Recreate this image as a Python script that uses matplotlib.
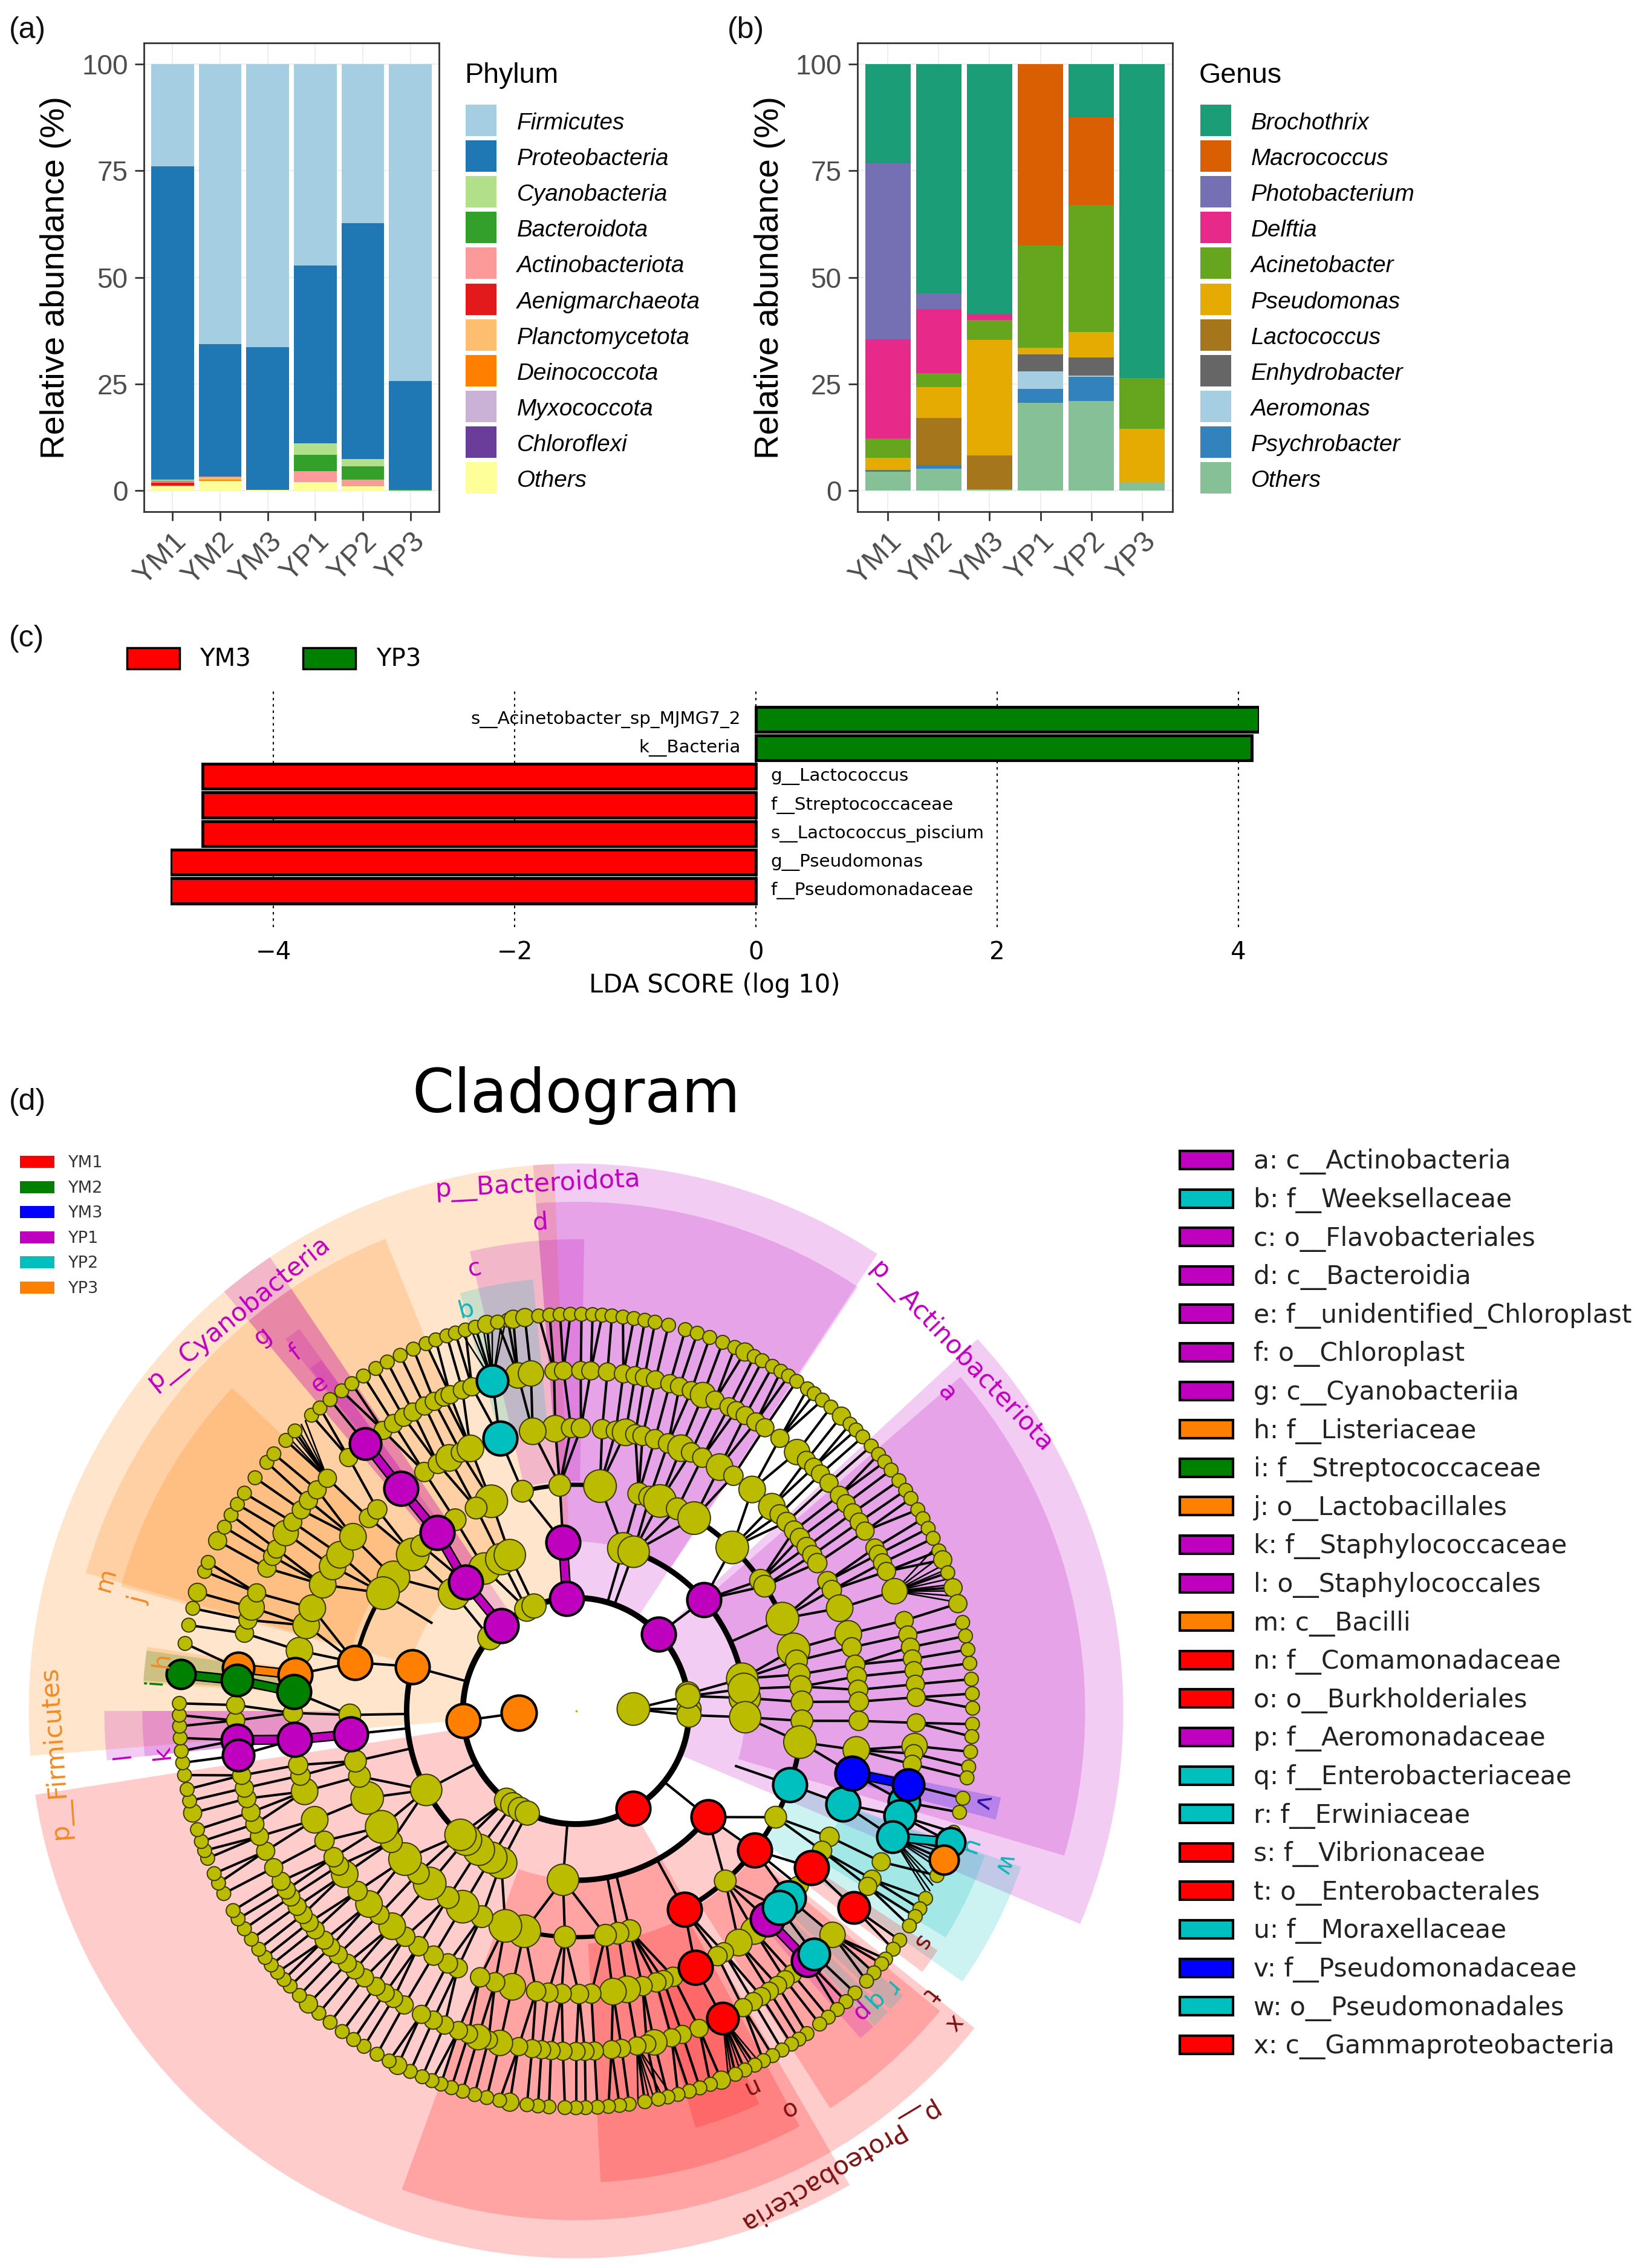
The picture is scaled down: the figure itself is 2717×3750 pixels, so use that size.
import matplotlib
matplotlib.use('Agg')
import matplotlib.pyplot as plt
import numpy as np
from matplotlib.patches import Rectangle

W, H = 2717, 3750
SANS = 'Liberation Sans'
DEJA = 'DejaVu Sans'

samples = ['YM1', 'YM2', 'YM3', 'YP1', 'YP2', 'YP3']

# panel a, listed top of stack to bottom of stack
phylum_names = ['Firmicutes', 'Proteobacteria', 'Cyanobacteria', 'Bacteroidota', 'Actinobacteriota',
                'Aenigmarchaeota', 'Planctomycetota', 'Deinococcota', 'Myxococcota', 'Chloroflexi', 'Others']
phylum_colors = ['#a6cee3', '#1f78b4', '#b2df8a', '#33a02c', '#fb9a99', '#e31a1c',
                 '#fdbf6f', '#ff7f00', '#cab2d6', '#6a3d9a', '#ffff99']
phylum_vals = {
    'YM1': [23.9, 73.6, 0.3, 0.1, 0.3, 0.7, 0.1, 0, 0, 0, 1.0],
    'YM2': [65.7, 31.1, 0, 0, 0.3, 0, 0.4, 0.3, 0, 0, 2.2],
    'YM3': [66.4, 33.5, 0, 0, 0, 0, 0, 0, 0, 0, 0.1],
    'YP1': [47.2, 41.8, 2.7, 3.8, 2.5, 0, 0, 0, 0, 0, 2.0],
    'YP2': [37.3, 55.3, 1.7, 3.2, 1.6, 0, 0, 0, 0, 0, 0.9],
    'YP3': [74.3, 25.4, 0, 0.3, 0, 0, 0, 0, 0, 0, 0],
}

# panel b
genus_names = ['Brochothrix', 'Macrococcus', 'Photobacterium', 'Delftia', 'Acinetobacter', 'Pseudomonas',
               'Lactococcus', 'Enhydrobacter', 'Aeromonas', 'Psychrobacter', 'Others']
genus_colors = ['#1b9e77', '#d95f02', '#7570b3', '#e7298a', '#66a61e', '#e6ab02',
                '#a6761d', '#666666', '#a6cee3', '#3182bd', '#85c096']
genus_vals = {
    'YM1': [23.3, 0, 41.3, 23.2, 4.5, 2.9, 0, 0, 0, 0.4, 4.4],
    'YM2': [53.8, 0, 3.6, 15.1, 3.2, 7.3, 11.0, 0, 0, 0.9, 5.1],
    'YM3': [58.6, 0, 0, 1.4, 4.7, 27.1, 8.0, 0, 0, 0, 0.2],
    'YP1': [0, 42.5, 0, 0, 24.1, 1.5, 0, 3.9, 4.2, 3.3, 20.5],
    'YP2': [12.4, 20.7, 0, 0, 29.7, 6.0, 0, 4.3, 0.2, 5.7, 21.0],
    'YP3': [73.6, 0, 0, 0, 12.0, 12.4, 0, 0, 0, 0, 2.0],
}

# panel c
lda_names = ['s__Acinetobacter_sp_MJMG7_2', 'k__Bacteria', 'g__Lactococcus', 'f__Streptococcaceae',
             's__Lactococcus_piscium', 'g__Pseudomonas', 'f__Pseudomonadaceae']
lda_vals = [4.17, 4.11, -4.59, -4.59, -4.59, -4.855, -4.855]

# panel d
groups = ['YM1', 'YM2', 'YM3', 'YP1', 'YP2', 'YP3']
group_colors = {'YM1': '#ff0000', 'YM2': '#008000', 'YM3': '#0000ff',
                'YP1': '#bf00bf', 'YP2': '#00bfbf', 'YP3': '#ff7f00'}
clade_legend = [('a: c__Actinobacteria', 'YP1'), ('b: f__Weeksellaceae', 'YP2'), ('c: o__Flavobacteriales', 'YP1'),
                ('d: c__Bacteroidia', 'YP1'), ('e: f__unidentified_Chloroplast', 'YP1'), ('f: o__Chloroplast', 'YP1'),
                ('g: c__Cyanobacteriia', 'YP1'), ('h: f__Listeriaceae', 'YP3'), ('i: f__Streptococcaceae', 'YM2'),
                ('j: o__Lactobacillales', 'YP3'), ('k: f__Staphylococcaceae', 'YP1'), ('l: o__Staphylococcales', 'YP1'),
                ('m: c__Bacilli', 'YP3'), ('n: f__Comamonadaceae', 'YM1'), ('o: o__Burkholderiales', 'YM1'),
                ('p: f__Aeromonadaceae', 'YP1'), ('q: f__Enterobacteriaceae', 'YP2'), ('r: f__Erwiniaceae', 'YP2'),
                ('s: f__Vibrionaceae', 'YM1'), ('t: o__Enterobacterales', 'YM1'), ('u: f__Moraxellaceae', 'YP2'),
                ('v: f__Pseudomonadaceae', 'YM3'), ('w: o__Pseudomonadales', 'YP2'), ('x: c__Gammaproteobacteria', 'YM1')]

ring_radius = {1: 95, 2: 187, 3: 280, 4: 374, 5: 468, 6: 563, 7: 656}
ring_size = {1: 54, 2: 40, 3: 52, 4: 36, 5: 32, 6: 30, 7: 23}
ring_big = {4: 54, 5: 44, 6: 42, 7: 30}

# (group, start angle, end angle, inner radius, outer radius)
sectors = [
    ('YM1', 188.8, 300, 187, 905), ('YP1', -22.9, 42.8, 187, 905), ('YP1', 56.6, 94.5, 187, 905),
    ('YP3', 92.3, 184.7, 187, 905), ('YP1', 124, 130, 187, 905),
    ('YM1', 250, 321.5, 278, 842), ('YP1', -16.5, 41, 280, 842), ('YP1', 56.4, 94.5, 280, 842),
    ('YP3', 112, 164.3, 285, 842), ('YP1', 124, 130, 280, 842),
    ('YM1', 273, 298.3, 385, 780), ('YM1', 302.6, 320.5, 380, 780), ('YP2', -35, -19.3, 375, 780),
    ('YP1', 89, 103, 380, 780), ('YP1', 125.9, 128, 385, 780), ('YP3', 136.8, 164.7, 385, 780),
    ('YP1', 180, 186, 385, 780),
    ('YM1', 286, 295, 468, 717), ('YM1', -37, -33.5, 470, 717), ('YP2', -31.5, -19.5, 470, 717),
    ('YM3', -14.5, -11.5, 470, 717), ('YP2', 95.7, 105.5, 470, 717), ('YP1', 126, 127.8, 470, 717),
    ('YP3', 171.5, 176.3, 470, 717), ('YM2', 172, 176, 470, 717), ('YP1', 180, 186, 470, 717),
    ('YP1', -49, -46.7, 470, 717), ('YP2', -46.5, -44, 470, 717), ('YP2', -43.5, -41, 470, 717),
]

# node angles in degrees for each ring
ring1 = [2, -178]
ring2 = [-59.5, 42.9, 8.7, 1, -2.1, 7.6, 94.7, 131.2, -175.1, -127.9, -124, -119.5, -115.5, 139.6, 115.8, 111.8]
ring3 = [94.4, 73.8, 70.1, 41, 11, 4.4, 7.5, -2.1, -38.8, -94.4, -116.2, -120, -125, -130.5, -133, -152.2,
         164.8, 130.6, 136.1, 122.7, 116.2, 113]
ring4 = [94.1, 83.9, 73.9, 71, 68.2, 63.4, 58.5, 46.3, 35.3, 33.5, 24.1, 15.8, 12.8, 9.3, 6.2, 2.3, -2.5, -7.9,
         -19, -28, -37.9, -48.7, -61.4, -76.2, -79.3, -82.5, -92.8, -103.2, -108.2, -114.6, -120.1, -124.4,
         -130.3, -134.2, -139.1, -144.7, -149.2, -157.4, -163.2, -167.2, -174.1, -179, 167.6, 143.8, 148.6,
         127.9, 136.2, 133, 112, 116.2, 122.3, 103.7]
ring4_big = [83.9, 68.2, 58.5, 46.3, 24.1, 15.8, -7.9, -103.2, -108.2, -120.1, -130.3, -139.1, -149.2, -157.4,
             143.8, 148.6, 136.2, 112]
ring5 = [94.2, 91, 89, 84.7, 81.9, 79.9, 77.9, 76.4, 73.8, 71, 68.2, 66, 63.5, 59.5, 56.2, 51.5, 46.2, 44, 41.9,
         39.6, 37.7, 35.4, 33.4, 31.5, 27.3, 25.3, 21.3, 15.8, 13, 9.4, 7, 4.3, 1.9, -2, -7.9, -12.7, -19.2, -26.4,
         -29.6, -33.6, -38.1, -41.3, -44, -47.4, -51, -54.9, -58.5, -60, -65, -69.9, -72, -73.5, -76.4, -79.6, -82.5,
         -86.9, -89.4, -92.9, -95.6, -98.1, -103, -106.6, -109.8, -114.7, -116.9, -120.2, -123.8, -127.1, -130.5,
         -134, -137, -140.5, -144.8, -146.9, -148.9, -152.7, -157.4, -163.5, -166.8, -169, -174.2, -179.6, 176.1,
         172.6, 167.7, 162.4, 158.7, 153.5, 149.3, 146.5, 142, 137, 134.6, 128.2, 122.4, 119.2, 116.6, 114,
         111.9, 105.6, 98.8]
ring5_big = [79.9, 68.2, 59.5, 51.5, 46.2, 21.3, 15.8, -7.9, -51, -54.9, -79.6, -82.5, -103, -130.5, -137, -144.8,
             -157.4, -163.5, 167.7, 162.4, 158.7, 153.5, 149.3, 146.5, 142, 116.6, 111.9, 98.8, 94.2]
ring6 = [93.7, 92.1, 89.2, 87.5, 84.7, 82, 80, 78.4, 76.5, 74, 72.3, 70.2, 68.1, 65.9, 63.3, 61.9, 60.2, 58.1, 56.3,
         53.2, 49.5, 47.4, 45.7, 44.1, 42, 39.3, 37.5, 35.6, 33.7, 31.9, 28.6, 27.4, 25.8, 24.2, 20.6, 15.4, 12.9,
         10.8, 8.8, 6.8, 4.5, 2.3, -2, -5.9, -7.2, -9, -12.5, -15.5, -17.9, -21.7, -26.3, -29.6, -31, -35.3, -41.1,
         -45.6, -47.2, -50.5, -52.1, -53.7, -55.4, -57, -58.6, -60.6, -64.5, -68.8, -71.8, -73.7, -76.7, -78, -79.7,
         -82.3, -84, -86.9, -88.5, -90, -92.2, -94.2, -95.8, -97.4, -99.7, -102.9, -104.9, -106.7, -108.4, -110.2,
         -112.7, -114.8, -117, -120.3, -122.4, -124.1, -126, -128.4, -130.5, -132.2, -134.3, -136.1, -137.7, -140,
         -141.6, -143.3, -145, -146.9, -148.3, -150, -152.6, -155.7, -158.4, -160.6, -162.7, -165.1, -166.9, -169.1,
         -172.5, -175.1, -178.4, 179, 174.8, 172.8, 166.8, 164.5, 162.3, 159.7, 155.2, 153, 151.6, 148.5, 146.3,
         143.8, 141.8, 139.5, 136.9, 131.9, 128.2, 124.5, 122.4, 120.4, 118.6, 116.4, 114.6, 112.8, 111.7, 109.5,
         107.8, 104.2, 99.8, 97.6]
ring6_big = [68.1, 49.5, 20.6, -5.9, -41.1, -76.7, -102.9, -106.7, 162.3, 148.5, 97.6, 99.8]
ring7 = [99.9, 99.1, 97.4, 95.4, 93.8, 92.3, 90.8, 89.2, 87.6, 86.2, 84.8, 83.2, 81.6, 80, 78.5, 76.5, 74, 72.2, 70.3,
         68.3, 66.4, 64.8, 63.3, 62, 60.3, 58.9, 57.6, 56.2, 54.3, 53.1, 51.6, 50, 48, 46.3, 45.1, 43.7, 41.9, 40.3,
         38.9, 37.4, 35.5, 33.8, 32.4, 30.5, 29, 27.4, 25.8, 23.8, 22.4, 20.4, 18.1, 15.7, 12.9, 10.9, 8.9, 6.9, 4.6,
         2.5, 0.4, -1.9, -3.7, -5.9, -8.1, -9.7, -12.7, -14.8, -17.8, -19.3, -22, -24.5, -28.2, -29.9, -31.2, -32.8,
         -35.3, -36.9, -38.7, -39.6, -41.3, -42.9, -45.3, -47.1, -48.8, -50.5, -52.1, -54.4, -55.8, -57.1, -58.7,
         -60.3, -61.8, -63.2, -64.8, -66.3, -68.5, -70.2, -71.8, -73.4, -75.1, -76.6, -78, -80, -82.3, -83.7, -85.3,
         -86.9, -88.6, -90, -91.6, -93.9, -95.5, -97.1, -99.6, -101.1, -103, -104.8, -106.6, -108.3, -109.9, -111.3,
         -112.8, -114.7, -116.7, -118.1, -120.1, -122.3, -124.1, -126.1, -128.3, -130.4, -132.4, -134.2, -136.1,
         -137.4, -138.8, -140.2, -141.6, -143.1, -144.9, -146.7, -148.4, -149.8, -152.6, -154.3, -155.8, -158.2,
         -159.4, -160.8, -162.6, -165.1, -166.9, -168.6, -170.7, -172.5, -174.2, -176.1, -177.8, -179.4, 178.9,
         174.7, 170.2, 167.5, 165, 162.6, 159.4, 158, 154.6, 152.4, 150.4, 148.6, 146.7, 144, 141.2, 139.6, 137,
         135.1, 131.8, 130.2, 128.3, 126.2, 124.4, 122.4, 120.3, 118.4, 116.3, 114.2, 112.2, 110.7, 109, 107.7,
         106.2, 104.7, 103, 101.4]
ring7_big = [64.8, 48, 22.4, 18.1, 15.7, -99.6, -116.7, -132.4, -165.1, 162.6, 154.6, 99.1, 97.4, 103, -68.5]

rings = {1: ring1, 2: ring2, 3: ring3, 4: ring4, 5: ring5, 6: ring6, 7: ring7}
bigs = {4: ring4_big, 5: ring5_big, 6: ring6_big, 7: ring7_big}

# highlighted nodes: group, ring, angle
marked = [
    ('YP1', 2, 94.7), ('YP1', 3, 94.4), ('YP1', 2, 131.2), ('YP1', 3, 130.6), ('YP1', 4, 127.9), ('YP1', 5, 128.2),
    ('YP1', 6, 128.2), ('YP1', 2, 42.9), ('YP1', 3, 41), ('YP1', 4, -174.1), ('YP1', 5, -174.2), ('YP1', 6, -175.1),
    ('YP1', 6, -172.5), ('YP1', 5, -47.4), ('YP1', 6, -47.2),
    ('YP2', 6, 104.2), ('YP2', 5, 105.6), ('YP2', 4, -19), ('YP2', 5, -19.2), ('YP2', 6, -15.5), ('YP2', 6, -17.9),
    ('YP2', 6, -21.7), ('YP2', 7, -19.3), ('YP2', 5, -41.3), ('YP2', 5, -44), ('YP2', 6, -45.6),
    ('YM3', 5, -12.7), ('YM3', 6, -12.5),
    ('YM1', 2, -59.5), ('YM1', 3, -38.8), ('YM1', 4, -37.9), ('YM1', 4, -61.4), ('YM1', 5, -33.6), ('YM1', 5, -65),
    ('YM1', 6, -35.3), ('YM1', 6, -64.5),
    ('YP3', 1, -178), ('YP3', 2, -175.1), ('YP3', 3, 164.8), ('YP3', 4, 167.6), ('YP3', 5, 172.6), ('YP3', 6, 172.8),
    ('YP3', 7, -22),
    ('YM2', 5, 176.1), ('YM2', 6, 174.8), ('YM2', 7, 174.7),
]
marked_size = {1: 58, 2: 56, 3: 56, 4: 56, 5: 56, 6: 52, 7: 48}

# highlighted links: group, ring, angle, ring, angle
marked_links = [
    ('YP1', 6, 128.2, 5, 128.2), ('YP1', 5, 128.2, 4, 127.9), ('YP1', 4, 127.9, 3, 130.6), ('YP1', 3, 130.6, 2, 131.2),
    ('YP1', 3, 94.4, 2, 94.7), ('YP1', 5, -174.2, 4, -174.1), ('YP1', 6, -175.1, 5, -174.2), ('YP1', 6, -47.2, 5, -47.4),
    ('YM2', 7, 174.7, 6, 174.8), ('YM2', 6, 174.8, 5, 176.1), ('YP3', 6, 172.8, 5, 172.6),
    ('YM3', 6, -12.5, 5, -12.7), ('YP2', 7, -19.3, 6, -21.7),
]

# thick black arcs: radius, start, end, width
arcs = [(187, 0, 360, 7), (280, 165, 226, 6.5), (280, 266, 321, 6.5), (280, -2, 70, 6.5),
        (374, -61.4, 58.5, 6), (374, 83.9, 103.7, 5), (374, -103.2, -76.2, 5), (374, -157.4, -139.1, 4),
        (374, 143.8, 167.6, 5)]

# tight fans of lines: parent ring, parent angle, child angles on the next ring
fans = [(6, 20.6, [15.9, 16.8, 17.6, 18.6, 19.5, 20.9, 21.7, 23, 24.6]),
        (6, -21.7, [-20.4, -21, -22.8, -23.5, -25.2, -26, -26.9, -27.6]),
        (6, -64.5, [-62.4, -63.8, -65.5, -66.9, -67.4]),
        (6, -79.7, [-76, -77.3, -78.6, -79.3, -81]),
        (6, 136.9, [133, 133.8, 134.6, 135.6, 136.4]),
        (6, 104.2, [100.2, 100.8, 102.2, 103.6, 105.4, 106.9])]

# letters and phylum names: text, group, angle, radius, rotation
clade_labels = [('a', 'YP1', 40.6, 807, -49), ('b', 'YP2', 105.3, 688, 15), ('c', 'YP1', 102.9, 750, 13),
                ('d', 'YP1', 94.2, 810, 4), ('e', 'YP1', 128.1, 687, 38), ('f', 'YP1', 128.1, 751, 38),
                ('g', 'YP1', 129.9, 808, 38), ('h', 'YP3', 173, 690, 83), ('i', 'YM2', 176, 699, 86),
                ('j', 'YP3', 165.7, 747, 76), ('k', 'YP1', 185.7, 688, 96), ('l', 'YP1', 185.6, 753, 96),
                ('m', 'YP3', 164.4, 807, 74), ('n', 'YM1', -65.3, 685, 205), ('o', 'YM1', -62, 745, 208),
                ('p', 'YP1', -46.8, 683, 223), ('q', 'YP2', -44.2, 687, 226), ('r', 'YP2', -41.4, 692, 229),
                ('s', 'YM1', -33.9, 687, 236), ('t', 'YM1', -38.7, 750, 231), ('u', 'YP2', -19.2, 689, 251),
                ('v', 'YM3', -12.7, 689, 257), ('w', 'YP2', -19.7, 751, 250), ('x', 'YM1', -39.6, 810, 230),
                ('p__Bacteroidota', 'YP1', 94.2, 873, 3), ('p__Cyanobacteria', 'YP1', 130.3, 863, 39),
                ('p__Actinobacteriota', 'YP1', 42.6, 865, -46.5), ('p__Firmicutes', 'YP3', 184.6, 865, 94),
                ('p__Proteobacteria', 'YM1', -60.1, 869, 211)]
label_colors = {'YM1': '#7a1212', 'YM2': '#008000', 'YM3': '#2a10a0', 'YP1': '#bf00bf', 'YP2': '#10b4b8', 'YP3': '#f08a24'}


def axes_px(left, top, right, bottom, **kw):
    return fig.add_axes([left / W, 1 - bottom / H, (right - left) / W, (bottom - top) / H], **kw)


def stacked(ax, vals, colors):
    for i, s in enumerate(samples):
        top = 100.0
        for v, c in zip(vals[s], colors):
            ax.bar(i + 1, v, 0.9, bottom=top - v, color=c, linewidth=0, zorder=3)
            top -= v
    ax.set_xlim(0.4, 6.6)
    ax.set_ylim(-5, 105)
    ax.set_xticks(range(1, 7))
    ax.set_xticklabels(samples, rotation=45, ha='right', va='top', rotation_mode='anchor',
                       family=SANS, fontsize=35, color='#4D4D4D')
    ax.set_yticks([0, 25, 50, 75, 100])
    ax.set_yticklabels(['0', '25', '50', '75', '100'], family=SANS, fontsize=33, color='#4D4D4D')
    ax.tick_params(axis='both', length=11, width=2, color='#333333', pad=8)
    ax.grid(True, color='#EBEBEB', linewidth=1.2, zorder=0)
    ax.set_axisbelow(True)
    for sp in ax.spines.values():
        sp.set_color('#333333')
        sp.set_linewidth(2)


def legend_block(x_key, x_text, title, names, colors):
    lay.text(x_key - 2, 125, title, family=SANS, fontsize=33.5, va='center', ha='left', color='black')
    for i, (n, c) in enumerate(zip(names, colors)):
        y = 199 + i * 59.1
        lay.add_patch(Rectangle((x_key, y - 26), 51, 52, facecolor=c, edgecolor='none'))
        lay.text(x_text, y + 5, n, family=SANS, style='italic', fontsize=27.8, va='center', ha='left', color='black')


fig = plt.figure(figsize=(W / 100, H / 100), dpi=100, facecolor='white')

lay = fig.add_axes([0, 0, 1, 1], zorder=10)
lay.set_xlim(0, W)
lay.set_ylim(H, 0)
lay.axis('off')
lay.patch.set_alpha(0)

# (a)
ax_a = axes_px(238, 71, 726, 846)
stacked(ax_a, phylum_vals, phylum_colors)
lay.text(92, 459, 'Relative abundance (%)', family=SANS, fontsize=40.5, rotation=90, ha='center', va='center')
legend_block(770, 855, 'Phylum', phylum_names, phylum_colors)

# (b)
ax_b = axes_px(1418, 71, 1939, 846)
stacked(ax_b, genus_vals, genus_colors)
lay.text(1273, 459, 'Relative abundance (%)', family=SANS, fontsize=40.5, rotation=90, ha='center', va='center')
legend_block(1985, 2069, 'Genus', genus_names, genus_colors)

for txt, x, y in [('(a)', 15, 50), ('(b)', 1203, 50), ('(c)', 15, 1056), ('(d)', 15, 1822)]:
    lay.text(x, y, txt, family=SANS, fontsize=36, va='center', ha='left', color='#111111')

# (c)
ax_c = axes_px(282, 1138, 2082, 1533)
ypos = np.arange(len(lda_vals))[::-1]
bar_cols = ['#ff0000' if v < 0 else '#008000' for v in lda_vals]
ax_c.barh(ypos, lda_vals, height=0.87, color=bar_cols, edgecolor='black', linewidth=3.5, zorder=3)
ax_c.set_xlim(-4.855, 4.172)
ax_c.set_ylim(-1.27, 7.08)
ax_c.set_yticks([])
ax_c.set_xticks([-4, -2, 0, 2, 4])
ax_c.set_xticklabels(['\u22124', '\u22122', '0', '2', '4'], family=DEJA, fontsize=29)
ax_c.tick_params(axis='x', length=0, pad=16)
ax_c.xaxis.grid(True, color='black', linewidth=1.5, linestyle=(0, (2, 3)), zorder=0)
ax_c.set_axisbelow(True)
for sp in ax_c.spines.values():
    sp.set_visible(False)
for y, n, v in zip(ypos, lda_names, lda_vals):
    if v > 0:
        ax_c.text(-0.125, y, n, family=DEJA, fontsize=21.2, ha='right', va='center', zorder=4)
    else:
        ax_c.text(0.12, y, n, family=DEJA, fontsize=21.2, ha='left', va='center', zorder=4)
lay.text(1182, 1629, 'LDA SCORE (log 10)', family=DEJA, fontsize=30, ha='center', va='center')
for name, x_sw, x_tx, col in [('YM3', 210, 330, '#ff0000'), ('YP3', 501, 622, '#008000')]:
    lay.add_patch(Rectangle((x_sw, 1071), 87, 35, facecolor=col, edgecolor='black', linewidth=2.5))
    lay.text(x_tx, 1090, name, family=DEJA, fontsize=29, va='center', ha='left')

# (d)
lay.text(953, 1812, 'Cladogram', family=DEJA, fontsize=71.5, ha='center', va='center')
for i, g in enumerate(groups):
    y = 1921 + i * 41.6
    lay.add_patch(Rectangle((33, y - 10), 57, 20, facecolor=group_colors[g], edgecolor='none'))
    lay.text(113, y + 2, g, family=DEJA, fontsize=19.5, va='center', ha='left', color='#333333')
for i, (txt, g) in enumerate(clade_legend):
    y = 1918 + i * 63.6
    lay.add_patch(Rectangle((1951, y - 15), 88, 30, facecolor=group_colors[g], edgecolor='black', linewidth=3))
    lay.text(2073, y + 3, txt, family=DEJA, fontsize=30.4, va='center', ha='left', color='#222222')

R = 915
CX, CY = 952.5, 2829
ax_d = axes_px(CX - R, CY - R, CX + R, CY + R, projection='polar')
ax_d.set_ylim(0, R)
ax_d.set_axis_off()

for g, a0, a1, r0, r1 in sectors:
    ax_d.bar(np.radians((a0 + a1) / 2), r1 - r0, width=np.radians(a1 - a0), bottom=r0,
             color=group_colors[g], alpha=0.2, linewidth=0, zorder=1)

for r, a0, a1, lw in arcs:
    th = np.radians(np.linspace(a0, a1, 300))
    ax_d.plot(th, np.full_like(th, r), color='black', lw=lw, zorder=2, solid_capstyle='butt')


def ang_diff(a, b):
    return abs((a - b + 180) % 360 - 180)


for ring in range(2, 8):
    parents = rings[ring - 1]
    for a in rings[ring]:
        p = min(parents, key=lambda q: ang_diff(q, a))
        if ring == 2 and ang_diff(p, a) > 6:
            continue
        if ang_diff(p, a) > 12:
            p = a
        ax_d.plot(np.radians([p, a]), [ring_radius[ring - 1], ring_radius[ring]], color='black', lw=2.9, zorder=2)
for pr, pa, kids in fans:
    for k in kids:
        ax_d.plot(np.radians([pa, k]), [ring_radius[pr], ring_radius[pr + 1]], color='black', lw=1.8, zorder=2)

for ring in range(7, 0, -1):
    big = bigs.get(ring, [])
    sizes = [ring_big[ring] if a in big else ring_size[ring] for a in rings[ring]]
    ax_d.scatter(np.radians(rings[ring]), np.full(len(rings[ring]), ring_radius[ring]),
                 s=[(d * 0.72) ** 2 for d in sizes], color='#BBBB00', edgecolors='#3a3a00', linewidths=1.4, zorder=3)
ax_d.scatter(np.radians([0]), [0], s=8, color='#BBBB00', linewidths=0, zorder=3)

for g, r1, a1, r2, a2 in marked_links:
    xs, ys = np.radians([a1, a2]), [ring_radius[r1], ring_radius[r2]]
    ax_d.plot(xs, ys, color='black', lw=12, zorder=4, solid_capstyle='butt')
    ax_d.plot(xs, ys, color=group_colors[g], lw=8.5, zorder=4, solid_capstyle='butt')
for g, ring, a in marked:
    ax_d.scatter(np.radians([a]), [ring_radius[ring]], s=(marked_size[ring] * 0.72) ** 2,
                 color=group_colors[g], edgecolors='black', linewidths=3, zorder=5)

for txt, g, a, r, rot in clade_labels:
    fs = 30.5 if len(txt) > 1 else 29
    ax_d.text(np.radians(a), r, txt, color=label_colors[g], family=DEJA, fontsize=fs, rotation=rot,
              ha='center', va='center', rotation_mode='anchor', zorder=6)

fig.savefig('out.png', dpi=100, facecolor='white')
